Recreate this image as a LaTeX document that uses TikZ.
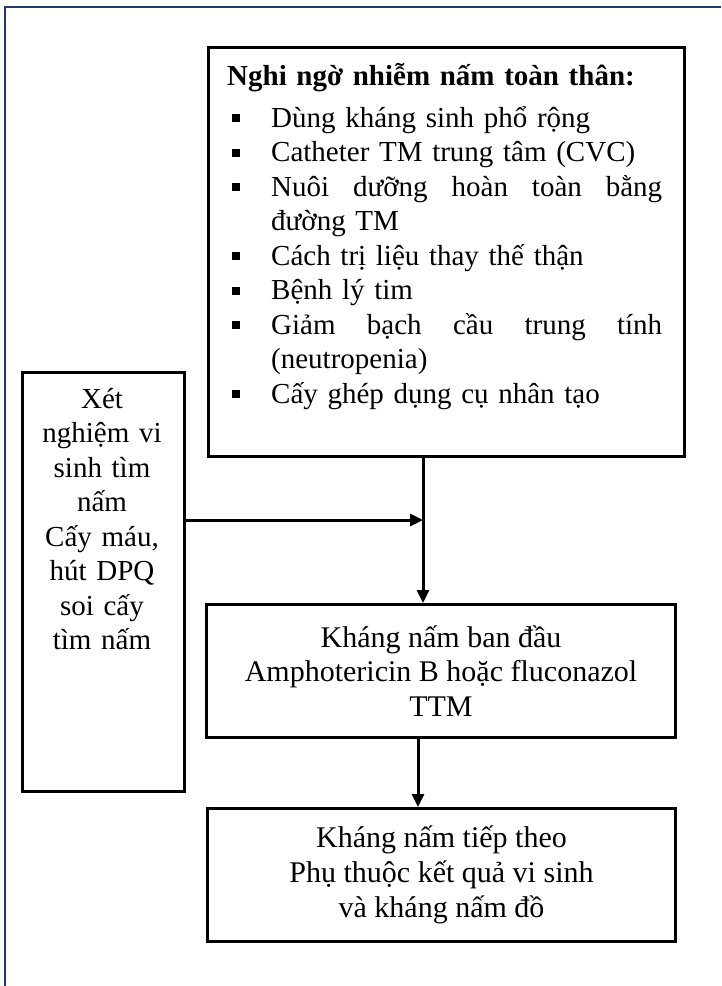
\documentclass[tikz,border=0pt]{standalone}
\usepackage{fontspec}
\setmainfont{Liberation Serif}
\usetikzlibrary{arrows.meta}
\definecolor{framenavy}{RGB}{31,56,110}
\newcommand{\bulitem}{\hspace*{5pt}\makebox[39pt][l]{\raisebox{5pt}{\rule{8pt}{8pt}}}}
\newcommand{\contline}{\hspace*{44pt}}
\begin{document}
\begin{tikzpicture}[x=1pt,y=-1pt]
\tikzset{
  box/.style={draw, line width=3pt, inner sep=0pt, anchor=north west},
  txt/.style={font=\fontsize{29}{34.5}\selectfont, inner sep=0pt},
  txtb/.style={font=\fontsize{30}{34.8}\selectfont, inner sep=0pt},
  conn/.style={line width=3pt, -{Triangle[length=13pt,width=12pt]}},
}
\useasboundingbox (0,0) rectangle (721,986);
\fill[white] (0,0) rectangle (721,986);
\draw[framenavy, line width=2pt] (721,7) -- (5,7) -- (5,986);

% boxes
\node[box, minimum width=476pt, minimum height=409pt] (sus) at (207,46) {};
\node[box, minimum width=162pt, minimum height=419pt] (lab) at (21,371) {};
\node[box, txtb, align=center, minimum width=469pt, minimum height=133pt] (mid) at (205,603)
  {Kháng nấm ban đầu\\Amphotericin B hoặc fluconazol\\TTM};
\node[box, txtb, align=center, minimum width=468pt, minimum height=133pt] (bot) at (206,807)
  {Kháng nấm tiếp theo\\Phụ thuộc kết quả vi sinh\\và kháng nấm đồ};

% texts
\node[txt, text width=436pt, align=left, anchor=base west] (sustext) at (227,85)
  {\textbf{Nghi ngờ nhiễm nấm toàn thân:}\\[7.5pt]
   \bulitem Dùng kháng sinh phổ rộng\\
   \bulitem Catheter TM trung tâm (CVC)\\
   \bulitem\hbox to 391pt{Nuôi\hfill dưỡng\hfill hoàn\hfill toàn\hfill bằng}\\
   \contline đường TM\\
   \bulitem Cách trị liệu thay thế thận\\
   \bulitem Bệnh lý tim\\
   \bulitem\hbox to 391pt{Giảm\hfill bạch\hfill cầu\hfill trung\hfill tính}\\
   \contline (neutropenia)\\
   \bulitem Cấy ghép dụng cụ nhân tạo};
\node[txt, text width=150pt, align=center, anchor=base] (labtext) at (102,408)
  {Xét\\nghiệm vi\\sinh tìm\\nấm\\Cấy máu,\\hút DPQ\\soi cấy\\tìm nấm};

% connectors
\coordinate (junc) at (423,520);
\coordinate (vx2) at (418,0);
\draw[conn] (sus.south -| junc) -- (mid.north -| junc);
\draw[conn] (lab.east |- junc) -- (junc);
\draw[conn] (mid.south -| vx2) -- (bot.north -| vx2);
\end{tikzpicture}
\end{document}
